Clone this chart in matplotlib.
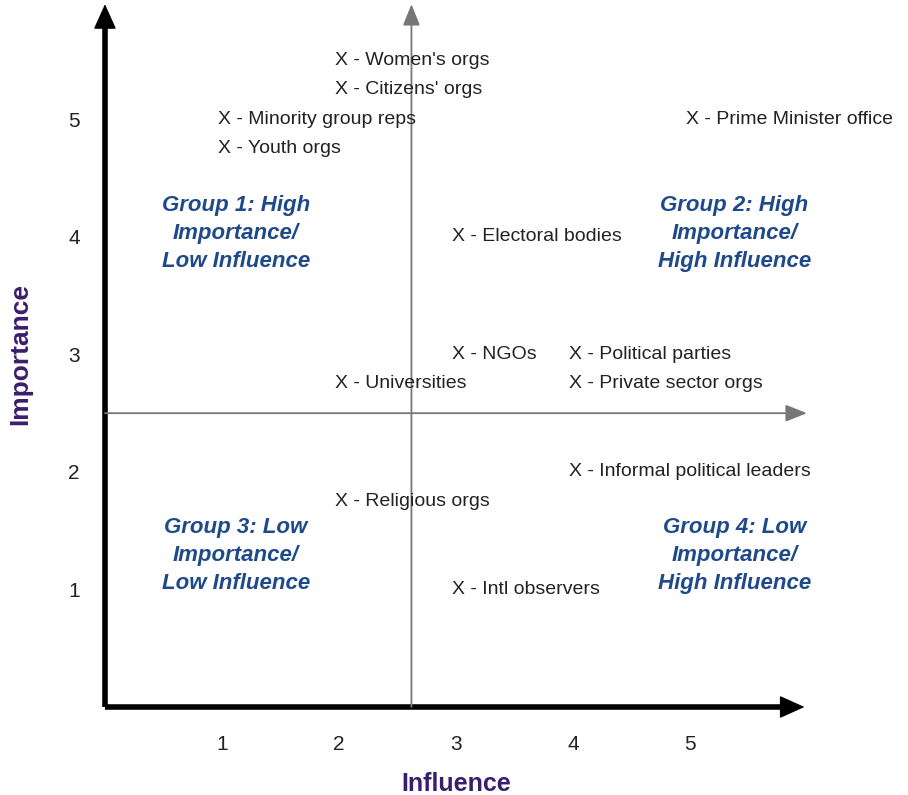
import matplotlib.pyplot as plt

plt.rcParams['font.family'] = ['Liberation Sans', 'DejaVu Sans']

# stakeholders: (influence, importance)
names = ["Women's orgs", "Citizens' orgs", "Minority group reps", "Youth orgs",
         "Prime Minister office", "Electoral bodies", "NGOs", "Political parties",
         "Universities", "Private sector orgs", "Informal political leaders",
         "Religious orgs", "Intl observers"]
influence = [2, 2, 1, 1, 5, 3, 3, 4, 2, 4, 4, 2, 3]
importance = [5.5, 5.25, 5, 4.75, 5, 4, 3, 3, 2.75, 2.75, 2, 1.75, 1]

groups = ["Group 1: High\nImportance/\nLow Influence",
          "Group 2: High\nImportance/\nHigh Influence",
          "Group 3: Low\nImportance/\nLow Influence",
          "Group 4: Low\nImportance/\nHigh Influence"]
group_x = [1.12, 5.38, 1.12, 5.38]
group_y = [4.03, 4.03, 1.29, 1.29]

ticks = [1, 2, 3, 4, 5]
mid_x = 2.62
mid_y = 2.5

fig = plt.figure(figsize=(9.08, 7.95), dpi=100)
ax = fig.add_axes([0.1156, 0.1107, 0.773, 0.887])
ax.set_xlim(0, 6)
ax.set_ylim(0, 6)
for s in ax.spines.values():
    s.set_visible(False)

# main axes: thick lines + filled heads
ax.plot([0, 5.85], [0, 0], color='black', lw=4, solid_capstyle='butt', clip_on=False)
ax.plot([0, 0], [0, 5.85], color='black', lw=4, solid_capstyle='butt', clip_on=False)
ax.annotate('', xy=(5.98, 0), xytext=(5.8, 0),
            arrowprops=dict(arrowstyle='-|>,head_length=1.0,head_width=0.45', color='black',
                            lw=1, mutation_scale=16, shrinkA=0, shrinkB=0),
            annotation_clip=False)
ax.annotate('', xy=(0, 5.98), xytext=(0, 5.8),
            arrowprops=dict(arrowstyle='-|>,head_length=1.0,head_width=0.45', color='black',
                            lw=1, mutation_scale=16, shrinkA=0, shrinkB=0),
            annotation_clip=False)
# quadrant arrows
ax.annotate('', xy=(6.0, mid_y), xytext=(0, mid_y),
            arrowprops=dict(arrowstyle='-|>,head_length=1.0,head_width=0.4', color='#777777',
                            lw=1.3, mutation_scale=13, shrinkA=0, shrinkB=0),
            annotation_clip=False)
ax.annotate('', xy=(mid_x, 5.98), xytext=(mid_x, 0),
            arrowprops=dict(arrowstyle='-|>,head_length=1.0,head_width=0.4', color='#777777',
                            lw=1.3, mutation_scale=13, shrinkA=0, shrinkB=0),
            annotation_clip=False)

ax.set_xticks(ticks)
ax.set_yticks(ticks)
ax.tick_params(axis='x', length=0, pad=20, labelsize=15, labelcolor='#222222')
ax.tick_params(axis='y', length=0, pad=18, labelsize=15, labelcolor='#222222')

for n, x, y in zip(names, influence, importance):
    ax.annotate('X - ' + n, xy=(x, y), xytext=(-3, 0), textcoords='offset points',
                ha='left', va='center', fontsize=14, color='#222222')

for g, x, y in zip(groups, group_x, group_y):
    ax.text(x, y, g, ha='center', va='center', fontsize=16, fontweight='bold',
            fontstyle='italic', color='#1f4a8a', linespacing=1.45)

ax.set_xlabel('Influence', fontsize=18, fontweight='bold', color='#3b1d6e', labelpad=13)
ax.set_ylabel('Importance', fontsize=19, fontweight='bold', color='#3b1d6e', labelpad=26)

fig.savefig('out.png', dpi=100)
